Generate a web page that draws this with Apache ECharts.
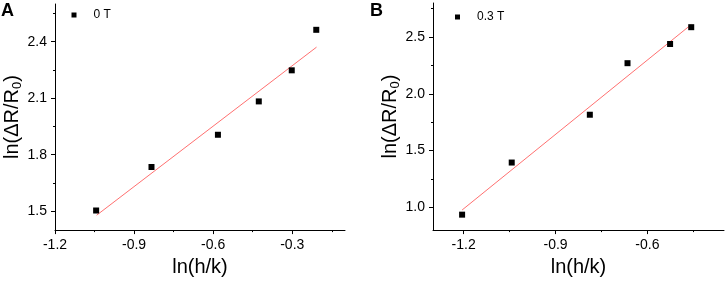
<!DOCTYPE html>
<html>
<head>
<meta charset="utf-8">
<script src="https://cdn.jsdelivr.net/npm/echarts@6/dist/echarts.min.js"></script>
<style>html,body{margin:0;padding:0;background:#fff}#c{width:726px;height:282px}</style>
</head>
<body>
<div id="c"></div>
<script>
// Panel A (0 T)
const xA = [-1.044, -0.834, -0.582, -0.427, -0.302, -0.209];
const yA = [1.504, 1.735, 1.906, 2.083, 2.248, 2.463];
const fitXA = [-1.042, -0.208];
const fitYA = [1.479, 2.371];
// Panel B (0.3 T)
const xB = [-1.205, -1.043, -0.788, -0.665, -0.526, -0.457];
const yB = [0.936, 1.395, 1.816, 2.270, 2.439, 2.587];
const fitXB = [-1.205, -0.457];
const fitYB = [0.977, 2.610];
// Ticks
const xTicksA = [-1.2, -0.9, -0.6, -0.3];
const xMinorA = [-1.05, -0.75, -0.45, -0.15];
const yTicksA = [1.5, 1.8, 2.1, 2.4];
const yMinorA = [1.65, 1.95, 2.25, 2.55];
const xTicksB = [-1.2, -0.9, -0.6];
const xMinorB = [-1.05, -0.75, -0.45];
const yTicksB = [1.0, 1.5, 2.0, 2.5];
const yMinorB = [1.25, 1.75, 2.25, 2.75];
const seriesNames = ['0 T', '0.3 T'];

const FONT = 'Liberation Sans, Arial, sans-serif';
const pairs = (xs, ys) => xs.map((x, i) => [x, ys[i]]);
const fmt = v => Number(v).toFixed(1);

function mainAxis(gridIndex, min, max, ticks, pos, extra) {
  return Object.assign({
    type: 'value', gridIndex, min, max, position: pos,
    axisLine: {show: true, onZero: false, lineStyle: {color: '#000', width: 1}},
    axisTick: {show: true, inside: false, length: 4, customValues: ticks, lineStyle: {color: '#000'}},
    axisLabel: {show: true, customValues: ticks, formatter: fmt, color: '#000', fontSize: 14, fontFamily: FONT, margin: 8},
    splitLine: {show: false}
  }, extra);
}
function minorAxis(gridIndex, min, max, ticks, pos) {
  return {
    type: 'value', gridIndex, min, max, position: pos,
    axisLine: {show: false, onZero: false},
    axisTick: {show: true, inside: false, length: 2, customValues: ticks, lineStyle: {color: '#000'}},
    axisLabel: {show: false},
    splitLine: {show: false}
  };
}
const yName = {
  name: 'ln(ΔR/R{sub|0})',
  nameLocation: 'middle',
  nameGap: 30,
  nameTextStyle: {
    fontSize: 20, fontFamily: FONT, color: '#000',
    rich: {sub: {fontSize: 13, fontFamily: FONT, color: '#000', verticalAlign: 'bottom', padding: [10, 0, 0, 0]}}
  }
};
const xName = {
  name: 'ln(h/k)', nameLocation: 'middle', nameGap: 26,
  nameTextStyle: {fontSize: 20, fontFamily: FONT, color: '#000'}
};

const chart = echarts.init(document.getElementById('c'), null, {renderer: 'canvas'});
chart.setOption({
  animation: false,
  backgroundColor: '#fff',
  grid: [
    {left: 55, top: 4, width: 290, height: 227.7},
    {left: 433, top: 3, width: 291, height: 227.3}
  ],
  graphic: [
    {type: 'text', left: 1, top: 2, style: {text: 'A', font: 'bold 18px ' + FONT, fill: '#000'}},
    {type: 'text', left: 370, top: 2, style: {text: 'B', font: 'bold 18px ' + FONT, fill: '#000'}}
  ],
  legend: [
    {data: [seriesNames[0]], left: 71.5, top: 9, padding: 0, icon: 'rect', itemWidth: 5, itemHeight: 5,
     textStyle: {fontSize: 12, fontFamily: FONT, color: '#000', padding: [0, 0, 0, 12]}},
    {data: [seriesNames[1]], left: 455, top: 11, padding: 0, icon: 'rect', itemWidth: 5, itemHeight: 5,
     textStyle: {fontSize: 12, fontFamily: FONT, color: '#000', padding: [0, 0, 0, 12]}}
  ],
  xAxis: [
    mainAxis(0, -1.2, -0.1, xTicksA, 'bottom', xName),
    mainAxis(1, -1.3, -0.35, xTicksB, 'bottom', xName),
    minorAxis(0, -1.2, -0.1, xMinorA, 'bottom'),
    minorAxis(1, -1.3, -0.35, xMinorB, 'bottom')
  ],
  yAxis: [
    mainAxis(0, 1.4, 2.6, yTicksA, 'left', yName),
    mainAxis(1, 0.8, 2.8, yTicksB, 'left', yName),
    minorAxis(0, 1.4, 2.6, yMinorA, 'left'),
    minorAxis(1, 0.8, 2.8, yMinorB, 'left')
  ],
  series: [
    {name: 'fitA', type: 'line', xAxisIndex: 0, yAxisIndex: 0, data: pairs(fitXA, fitYA),
     symbol: 'none', lineStyle: {color: '#ff7070', width: 1}, itemStyle: {color: '#ff7070'}, silent: true, z: 1},
    {name: seriesNames[0], type: 'scatter', xAxisIndex: 0, yAxisIndex: 0, data: pairs(xA, yA),
     symbol: 'rect', symbolSize: 6, itemStyle: {color: '#000', opacity: 1}, z: 2},
    {name: 'fitB', type: 'line', xAxisIndex: 1, yAxisIndex: 1, data: pairs(fitXB, fitYB),
     symbol: 'none', lineStyle: {color: '#ff7070', width: 1}, itemStyle: {color: '#ff7070'}, silent: true, z: 1},
    {name: seriesNames[1], type: 'scatter', xAxisIndex: 1, yAxisIndex: 1, data: pairs(xB, yB),
     symbol: 'rect', symbolSize: 6, itemStyle: {color: '#000', opacity: 1}, z: 2}
  ]
});
</script>
</body>
</html>
